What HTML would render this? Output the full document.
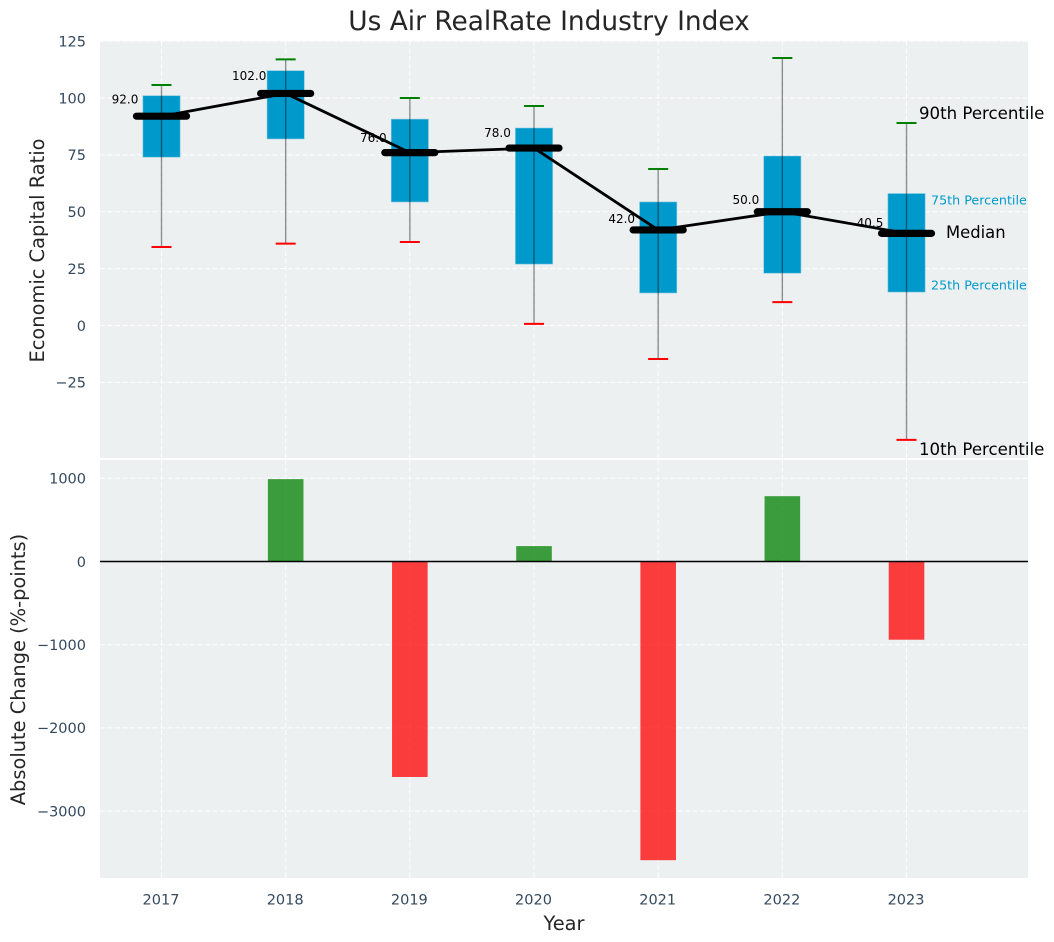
<!DOCTYPE html>
<html lang="en">
<head>
<meta charset="utf-8">
<title>Us Air RealRate Industry Index</title>
<style>
html,body{margin:0;padding:0;background:#fff;width:1054px;height:942px;overflow:hidden}
svg{display:block}
text{font-family:"DejaVu Sans","Liberation Sans",sans-serif}
</style>
</head>
<body>
<svg id="chart" xmlns="http://www.w3.org/2000/svg" width="1054" height="942" viewBox="0 0 1054 942">
  <rect x="0" y="0" width="1054" height="942" fill="#ffffff"/>
  <rect x="100" y="41" width="928" height="417" fill="#ecf0f1"/>
  <rect x="100" y="460" width="928" height="418" fill="#ecf0f1"/>
  <g id="grid"></g>
  <g id="bars"></g>
  <g id="boxes"></g>
  <g id="medians"></g>
  <g id="ticks"></g>
  <text x="549" y="30" text-anchor="middle" font-size="26.4" fill="#262626">Us Air RealRate Industry Index</text>
  <text transform="translate(44,250.5) rotate(-90)" text-anchor="middle" font-size="19.4" fill="#262626">Economic Capital Ratio</text>
  <text transform="translate(25,669.5) rotate(-90)" text-anchor="middle" font-size="19.4" fill="#262626">Absolute Change (%-points)</text>
  <text x="564" y="930" text-anchor="middle" font-size="19.4" fill="#262626">Year</text>
  <text x="919" y="119" font-size="16.6" fill="#000000">90th Percentile</text>
  <text x="931" y="204.5" font-size="12.7" fill="#0099cc">75th Percentile</text>
  <text x="946" y="238" font-size="16.4" fill="#000000">Median</text>
  <text x="931" y="289.5" font-size="12.7" fill="#0099cc">25th Percentile</text>
  <text x="919" y="455" font-size="16.6" fill="#000000">10th Percentile</text>
</svg>
<script>
var years = [2017, 2018, 2019, 2020, 2021, 2022, 2023];
var p90 = [105.7, 117, 100, 96.5, 68.8, 117.6, 89];
var p75 = [101, 112, 90.7, 86.8, 54.3, 74.5, 58];
var medianValues = [92, 102, 76, 78, 42, 50, 40.5];
var p25 = [74, 82, 54.3, 27, 14.3, 23, 14.7];
var p10 = [34.5, 36, 36.7, 0.7, -14.7, 10.3, -50.3];
var changes = [0, 990, -2590, 185, -3590, 785, -940];
var upperTicks = [125, 100, 75, 50, 25, 0, -25];
var lowerTicks = [1000, 0, -1000, -2000, -3000];

var NS = 'http://www.w3.org/2000/svg';
function xPos(year) { return 161.5 + (year - 2017) * 124.17; }
function yUpper(v) { return 325.5 - v * 2.275; }
function yLower(v) { return 561.5 - v * 0.0832; }
function fmtTick(v) { return v < 0 ? '\u2212' + Math.abs(v) : String(v); }
function make(parent, tag, attrs, txt) {
  var el = document.createElementNS(NS, tag);
  for (var k in attrs) { el.setAttribute(k, attrs[k]); }
  if (txt !== undefined) { el.textContent = txt; }
  document.getElementById(parent).appendChild(el);
  return el;
}
var el;
function gridAttrs(x1, y1, x2, y2) {
  return {x1: x1, y1: y1, x2: x2, y2: y2, stroke: '#ffffff', 'stroke-width': 1, 'stroke-dasharray': '5 2.5', opacity: 0.9};
}

years.forEach(function (yr) {
  var x = xPos(yr);
  el = make('grid', 'line', gridAttrs(x, 41, x, 458));
  
  
  el = make('grid', 'line', gridAttrs(x, 460, x, 878));
  
  
  el = make('ticks', 'text', {x: x - 0.5, y: 904.5, 'text-anchor': 'middle', 'font-size': 14.5, fill: '#34495e'}, String(yr));
  
  
});
upperTicks.forEach(function (v) {
  var y = yUpper(v);
  el = make('grid', 'line', gridAttrs(100, y, 1028, y));
  
  
  el = make('ticks', 'text', {x: 86, y: y + 5.3, 'text-anchor': 'end', 'font-size': 14.5, fill: '#34495e'}, fmtTick(v));
  
  
});
lowerTicks.forEach(function (v) {
  var y = yLower(v);
  el = make('grid', 'line', gridAttrs(100, y, 1028, y));
  
  
  el = make('ticks', 'text', {x: 86, y: y + 5.3, 'text-anchor': 'end', 'font-size': 14.5, fill: '#34495e'}, fmtTick(v));
  
  
});

changes.forEach(function (v, i) {
  if (v === 0) { return; }
  var x = xPos(years[i]);
  var y0 = yLower(0), y1 = yLower(v);
  el = make('bars', 'rect', {x: x - 17.8, y: Math.min(y0, y1), width: 35.6, height: Math.abs(y1 - y0), fill: v >= 0 ? '#008000' : '#ff0000', opacity: 0.75});
  
  
});
el = make('bars', 'line', {x1: 100, y1: yLower(0), x2: 1028, y2: yLower(0), stroke: '#000000', 'stroke-width': 1.4});



years.forEach(function (yr, i) {
  var x = xPos(yr);
  var top = yUpper(p75[i]), bot = yUpper(p25[i]);
  el = make('boxes', 'rect', {x: x - 18.6, y: top, width: 37.2, height: bot - top, fill: '#0099cc', stroke: '#7cc6df', 'stroke-width': 0.6});
  
  
  el = make('boxes', 'line', {x1: x, y1: yUpper(p90[i]), x2: x, y2: yUpper(p10[i]), stroke: '#000000', 'stroke-width': 1.4, opacity: 0.42});
  
  
  el = make('boxes', 'line', {x1: x - 10, y1: yUpper(p90[i]), x2: x + 10, y2: yUpper(p90[i]), stroke: '#008000', 'stroke-width': 2});
  
  
  el = make('boxes', 'line', {x1: x - 10, y1: yUpper(p10[i]), x2: x + 10, y2: yUpper(p10[i]), stroke: '#ff0000', 'stroke-width': 2});
  
  
});

var pts = years.map(function (yr, i) { return xPos(yr) + ',' + yUpper(medianValues[i]); }).join(' ');
el = make('medians', 'polyline', {points: pts, fill: 'none', stroke: '#000000', 'stroke-width': 2.8, 'stroke-linejoin': 'round'});


years.forEach(function (yr, i) {
  var x = xPos(yr), y = yUpper(medianValues[i]);
  el = make('medians', 'line', {x1: x - 25, y1: y, x2: x + 25, y2: y, stroke: '#000000', 'stroke-width': 7.2, 'stroke-linecap': 'round'});
  
  
  el = make('medians', 'text', {x: x - 36.5, y: yUpper(medianValues[i] * 1.05) - 2, 'text-anchor': 'middle', 'font-size': 12, fill: '#000000'}, medianValues[i].toFixed(1));
  
  
});
</script>
</body>
</html>
